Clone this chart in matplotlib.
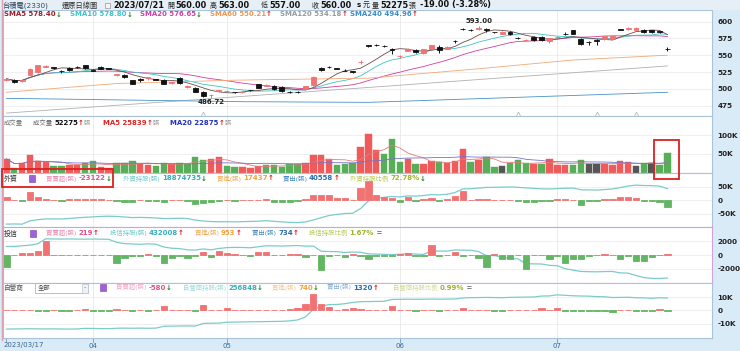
import numpy as np
import pandas as pd
import matplotlib
matplotlib.use("Agg")
import matplotlib.pyplot as plt
from matplotlib.patches import Rectangle
from matplotlib.lines import Line2D
import matplotlib.transforms as mtrans

plt.rcParams['font.family'] = ['DejaVu Sans', 'Noto Sans CJK TC']

# ---------------- data ----------------
month_idx = [0, 11, 28, 50, 70]
month_labels = ['2023/03/17', '04', '05', '06', '07']

open_ = [514,514,512,521,525,533,532,527,531,533,
         535,527.5,533,531,520,521,513,514,516,514.5,
         514,509.5,516,503.5,502,496,490.5,497,496.5,495.5,
         495.5,498,507,505,505,503,496,495,500,506,
         531,533,530.5,527,526,539.5,565,566,564,559,
         548.5,557,558,553,559,563,560,571,589,588,
         589.5,589.5,584.5,582,584,575.5,572.5,577,577,571,
         576.5,582,587,574,570,573,574,574,588.5,589,
         588,588,587,585.5,560]
high_ = [516,515,514,531,536,535,533,528,532,534,
         536,529,534,531.5,522,522,514,516,518,515,
         515,511,517,506,503,497,493,499,499,496,
         497.5,499,508,507,506,504,497.5,497,505,519,
         533,534,531,529,527,543,566,567,565.5,561,
         551,561,559,560,566,566,564,573,591,589,
         593,591,585,586,586,577,574,578,579,576,
         579,584,588,575,571,574,579,579,589,592,
         592,589,588,586,563]
low_ = [512,509,511,520,524,532,529,524,527,531,
        530,526,529,529,519,516,507,511,513,513,
        507,508,508,502,495,488,486.72,496,495,494,
        494,497,501,504,499,496,494,493.5,499,505,
        527,531,529,526,524,537,563,564,563,552,
        546,556,554,552,558,553,559,569,588,586,
        588,585,583,581,580,574,571,571,572,569,
        575,580,581,566,565,566,573,573,587,588,
        587,583,583,583,557]
close_ = [515,510,513,530,535,534,530.5,527,528,532,
          531,527,530,530,521.5,517,508,514,517,514,
          508,510,509,504,496,489,491,498.5,497,495,
          496,498,502,506.5,500,497,496,495,504,518,
          528,532,530,527,525,540,564,565,564,557.5,
          549,560,555,559,565,558,563,571,589,588,
          590,588,584,585,582,575,573,573,573,575,
          577,582,582,567,570,571,578,578,588,591,
          591,584,584,585,560]

sma60_idx = [0, 14, 29, 46, 60, 72, 84]
sma60_val = [495, 508, 513, 516, 530, 543, 550.21]
sma120_idx = [0, 47, 84]
sma120_val = [464, 503, 534.18]
sma240_idx = [0, 30, 46, 84]
sma240_val = [486, 481, 480, 494.96]

volume = [37000,12000,25000,47000,32000,28000,18000,18000,21000,21000,
          27000,30000,16000,12000,27000,27000,30000,23000,21000,18000,
          27000,23000,27000,23000,42000,34000,36000,41000,18000,14000,
          16000,12000,18000,21000,21000,16000,23000,23000,25000,46000,
          46000,36000,21000,23000,27000,68000,103000,60000,50000,89000,
          28000,37000,23000,24000,32000,28000,25000,32000,64000,28000,
          33000,43000,16000,19000,27000,33000,25000,23000,23000,36000,
          21000,21000,21000,34000,23000,23000,23000,21000,30000,29000,
          18000,25000,27000,20000,52275]
vol_dir = list("rgrrrrggrr" "ggrrgggrrg" "grggggrrgg" "rrrgggggrr"
               "rrgggrrrgg" "grgrrgrrrg" "rggkgggrgr" "rrggkkrrrr" "kgkgg")

foreign = [11000,2000,-2000,31600,11000,6000,1000,-1000,5000,6000,
           5000,4000,4000,2000,-2000,-5000,-6000,2000,-2000,-3000,
           -6000,1000,2000,-3000,-14000,-9000,-5000,-2000,1000,-2000,
           2000,2000,2000,5000,-6000,-5000,-5000,-2000,6000,19000,
           21000,21000,10000,9000,2000,44000,72000,21000,13000,8000,
           -5000,11000,-3000,6000,9000,-3000,6000,16000,34000,2000,
           6000,6000,1000,2000,2000,-4000,-5000,-5000,-4000,-2000,
           4000,4000,1000,-16000,-1000,-2000,5000,5000,14000,14000,
           9000,-4000,-1000,-5000,-23122]
trust = [-1750,50,250,250,600,2000,-50,-50,50,-50,
         -50,50,-50,-50,-1250,-500,-150,-150,200,-150,
         -1150,-500,-150,-500,-100,450,-350,550,350,100,
         -50,-100,400,400,-50,-50,100,100,-250,50,
         -2150,-100,-50,-350,200,-100,-650,-100,-100,-100,
         100,250,-150,-150,1500,-100,-50,500,-100,-50,
         -500,-1750,100,-650,-650,-50,-2000,-50,-50,-550,
         -150,-1250,-550,-550,-100,-50,100,50,-600,-100,
         -950,-850,-350,-50,219]
dealer = [200,200,200,200,-200,-200,200,-200,-200,200,
          1000,-200,-200,-200,750,200,-200,200,-200,200,
          3000,200,200,200,-300,4250,200,200,1500,200,
          200,200,200,200,200,200,750,1500,4750,12250,
          5000,2500,200,1250,2000,1250,200,200,200,3000,
          200,200,-200,200,200,-200,200,200,1500,500,
          200,200,-200,-200,500,200,200,200,1500,200,
          1750,-750,-750,-400,-200,-750,-200,-1250,200,200,
          -750,-200,-750,1000,-580]

event_idx = [25, 65, 75, 80]

# ---------------- figure ----------------
W, H = 740, 351
fig = plt.figure(figsize=(W / 100, H / 100), dpi=100)
fig.patch.set_facecolor('#d9ebf7')

def px_axes(x0, y0, x1, y1):
    return fig.add_axes([x0 / W, 1 - y1 / H, (x1 - x0) / W, (y1 - y0) / H])

XL = (-0.43, 89.66)
RED = '#f07272'
GRN = '#62b562'
UPC = '#d81818'
DNC = '#1a8a1a'
HOLD = '#7ccbcb'

o = np.array(open_); h = np.array(high_); l = np.array(low_); c = np.array(close_)
n = len(c)
x = np.arange(n)

def style(ax, ylim, ticks, labels, spine='#a9c3da'):
    ax.set_xlim(*XL)
    ax.set_ylim(*ylim)
    ax.set_facecolor('white')
    ax.yaxis.tick_right()
    ax.set_yticks(ticks)
    ax.set_yticklabels(labels)
    ax.tick_params(axis='y', which='both', left=False, labelleft=False, right=False,
                   labelright=True, length=0, pad=4, labelsize=5.2, colors='#222')
    for lab in ax.get_yticklabels():
        lab.set_fontweight('bold')
    ax.set_xticks([])
    for s in ax.spines.values():
        s.set_color(spine)
        s.set_linewidth(0.8)
    for yv in ticks:
        ax.axhline(yv, color='#ececec', lw=0.6, zorder=0)
    for m in month_idx[1:]:
        ax.axvline(m, color='#e8e8e8', lw=0.6, zorder=0)

# header band
fig.patches.append(Rectangle((0, 1 - 10 / H), 1, 10 / H, transform=fig.transFigure,
                             facecolor='#e6eef6', edgecolor='none', zorder=0))

# ---- price panel ----
ax_p = px_axes(3, 10, 712, 116)
style(ax_p, (459.7, 617.4), [475, 500, 525, 550, 575, 600],
      ['475', '500', '525', '550', '575', '600'])
cs = pd.Series(c)
ax_p.plot(x, cs.rolling(20, min_periods=1).mean(), color='#d23ca2', lw=0.6, zorder=1)
ax_p.plot(x, cs.rolling(10, min_periods=1).mean(), color='#3ec4c4', lw=0.6, zorder=1)
ax_p.plot(x, cs.rolling(5, min_periods=1).mean(), color='#6d4a4a', lw=0.6, zorder=1)
ax_p.plot(sma60_idx, sma60_val, color='#f2a878', lw=0.6, zorder=1)
ax_p.plot(sma120_idx, sma120_val, color='#b0b0b0', lw=0.6, zorder=1)
ax_p.plot(sma240_idx, sma240_val, color='#4a92c6', lw=0.6, zorder=1)
ccol = np.where(c > o, RED, '#111111')
ax_p.vlines(x, l, h, colors=ccol, lw=0.7, zorder=2)
ax_p.bar(x, np.maximum(np.abs(c - o), 0.01), bottom=np.minimum(o, c), width=0.62,
         color=ccol, edgecolor=ccol, linewidth=0.6, zorder=3)
imax = int(np.argmax(h)); imin = int(np.argmin(l))
ax_p.annotate(f'{h[imax]:.2f}', (imax, h[imax]), xytext=(0, 1.5), textcoords='offset points',
              ha='center', va='bottom', fontsize=5, fontweight='bold', color='#222')
ax_p.annotate(f'{l[imin]:.2f}', (imin, l[imin]), xytext=(0, -3.2), textcoords='offset points',
              ha='center', va='center', fontsize=5, fontweight='bold', color='#222')
ax_p.plot(event_idx, [0.015] * len(event_idx), ls='none', marker='^', ms=3.5, mfc='white',
          mec='#b8b8b8', mew=0.6, transform=mtrans.blended_transform_factory(ax_p.transData, ax_p.transAxes),
          clip_on=False, zorder=5)

# ---- volume panel ----
ax_v = px_axes(3, 116, 712, 172.6)
style(ax_v, (0, 152000), [50000, 100000], ['50K', '100K'])
vcol = [{'r': '#f05a5a', 'g': '#58ad58', 'k': '#555555'}[d] for d in vol_dir]
ax_v.bar(x, volume, width=0.82, color=vcol, edgecolor=vcol, linewidth=0.3, zorder=2)
vs = pd.Series(volume, dtype=float)
ax_v.plot(x, vs.rolling(5, min_periods=1).mean(), color='#e87a7a', lw=0.6, zorder=3)
ax_v.plot(x, vs.rolling(20, min_periods=1).mean(), color='#7474c8', lw=0.6, zorder=3)

def inst_panel(ax, vals, ylim, ticks, labels, frac_lo, frac_hi, spine='#a9c3da'):
    v = np.array(vals, dtype=float)
    hold = np.cumsum(v)
    rng = hold.max() - hold.min()
    lo = hold.min() - frac_lo * rng
    hi = hold.max() + frac_hi * rng
    style(ax, ylim, ticks, labels, spine)
    col = np.where(v > 0, RED, GRN)
    ax.bar(x, v, width=0.8, color=col, edgecolor=col, linewidth=0.6, zorder=2)
    # holdings line on its own scale, drawn in axes-fraction space of the same axes
    frac = (hold - lo) / (hi - lo)
    ax.plot(x, frac, color=HOLD, lw=0.9, zorder=1.5,
            transform=mtrans.blended_transform_factory(ax.transData, ax.transAxes))

ax_f = px_axes(3, 172.6, 712, 226.5)
inst_panel(ax_f, foreign, (-96600, 102600), [-50000, 0, 50000], ['-50K', '0', '50K'], 0.06, 0.32)
ax_t = px_axes(3, 226.5, 712, 282.5)
inst_panel(ax_t, trust, (-4060, 4210), [-2000, 0, 2000], ['-2000', '0', '2000'], 0.10, 0.31,
           spine='#cfa2d8')
ax_d = px_axes(3, 282.5, 712, 338)
inst_panel(ax_d, dealer, (-20500, 20800), [-10000, 0, 10000], ['-10K', '0', '10K'], 0.26, 0.36)

# ---- date axis ----
bt = mtrans.blended_transform_factory(ax_d.transData, fig.transFigure)
for i, (m, lab) in enumerate(zip(month_idx, month_labels)):
    fig.add_artist(Line2D([m, m], [1 - 338.5 / H, 1 - 341.5 / H], transform=bt, color='#7fa2c4', lw=0.7))
    if i == 0:
        fig.text(m - 0.35, 1 - 345.5 / H, lab, transform=bt, ha='left', va='center', fontsize=5, color='#3e6690')
    else:
        fig.text(m, 1 - 345.5 / H, lab, transform=bt, ha='center', va='center', fontsize=5, color='#3e6690')

# left border
fig.add_artist(Line2D([1.5 / W, 1.5 / W], [1 - 340 / H, 1], transform=fig.transFigure, color='#dca0ae', lw=1.0))

# ---------------- texts ----------------
renderer = fig.canvas.get_renderer()

def rich(xp, yp, pieces):
    xx = xp
    for p in pieces:
        s, col = p[0], p[1]
        kw = p[2] if len(p) > 2 else {}
        t = fig.text(xx / W, 1 - yp / H, s, color=col, fontsize=kw.get('fs', 5),
                     fontweight=kw.get('w', 'bold'), va='center', ha='left', zorder=6)
        bb = t.get_window_extent(renderer)
        xx += bb.width + kw.get('gap', 0)

def put(xp, yp, s, col, fs=5, w='bold'):
    fig.text(xp / W, 1 - yp / H, s, color=col, fontsize=fs, fontweight=w, va='center', ha='left', zorder=6)

N = {'w': 'normal', 'fs': 4.6}

# header row
HN = 5.9
HC = 5.0
put(2, 5, '台積電(2330)', '#34495e', 5.2, 'normal')
put(62, 5, '還原日線圖', '#333333', 5.2, 'normal')
fig.patches.append(Rectangle((105 / W, 1 - 8 / H), 5 / W, 5 / H, transform=fig.transFigure,
                             facecolor='#f4f4f4', edgecolor='#999', lw=0.5, zorder=6))
put(113, 5, '2023/07/21', '#111', HN)
put(167, 5, '開', '#222', HC, 'normal'); put(175, 5, '560.00', '#111', HN)
put(210, 5, '高', '#222', HC, 'normal'); put(218, 5, '563.00', '#111', HN)
put(261, 5, '低', '#222', HC, 'normal'); put(269, 5, '557.00', '#111', HN)
put(312, 5, '收', '#222', HC, 'normal'); put(320, 5, '560.00', '#111', HN)
put(357, 5, 's', '#111', 5.0); put(362.5, 5, '元', '#222', HC, 'normal')
put(372, 5, '量', '#222', HC, 'normal'); put(380, 5, '52275', '#111', HN)
put(409, 5, '張', '#222', HC, 'normal'); put(420, 5, '-19.00 (-3.28%)', '#111', HN)

# SMA legend
up, dn = '↑', '↓'
rich(4, 14.5, [('SMA5 578.40', '#a31c2a'), (dn, DNC)])
rich(70, 14.5, [('SMA10 578.80', '#3cc4c8'), (dn, DNC)])
rich(140, 14.5, [('SMA20 576.65', '#d43ca4'), (dn, DNC)])
rich(210, 14.5, [('SMA60 550.21', '#f0964e'), (up, UPC)])
rich(280, 14.5, [('SMA120 534.18', '#9a9a9a'), (up, UPC)])
rich(350, 14.5, [('SMA240 494.96', '#3a8ccc'), (up, UPC)])

# volume legend
rich(4, 123, [('成交量', '#777', N)])
rich(33, 123, [('成交量 ', '#666', N), ('52275', '#111'), (up, UPC), ('張', '#999', N)])
rich(103, 123, [('MA5 25839', '#e02424'), (up, UPC), ('張', '#999', N)])
rich(170, 123, [('MA20 22875', '#2430c0'), (up, UPC), ('張', '#999', N)])

def icon(xp, yp):
    fig.patches.append(Rectangle((xp / W, 1 - (yp + 3.5) / H), 5.5 / W, 7 / H, transform=fig.transFigure,
                                 facecolor='#a060d8', edgecolor='#7a3cb0', lw=0.4, zorder=6))

# foreign legend
rich(4, 178.5, [('外資', '#333', {'w': 'normal', 'fs': 5})])
icon(29, 178.5)
rich(46, 178.5, [('買賣超(張) ', '#e68ab2', N), ('-23122', '#e0508a'), (dn, DNC)])
rich(123, 178.5, [('外資持股(張) ', '#6ccaca', N), ('18874735', '#38aeb8'), (dn, DNC)])
rich(217, 178.5, [('買進(張) ', '#f0aa50', N), ('17437', '#f0a23c'), (up, UPC)])
rich(283, 178.5, [('賣出(張) ', '#4a8ac2', N), ('40558', '#2a6cae'), (up, UPC)])
rich(350, 178.5, [('外資持股比例 ', '#b8c850', N), ('72.78%', '#9cb42c'), (dn, DNC)])

# trust legend
rich(4, 233, [('投信', '#333', {'w': 'normal', 'fs': 5})])
icon(30, 233)
rich(46, 233, [('買賣超(張) ', '#e68ab2', N), ('219', '#e0508a'), (up, UPC)])
rich(110, 233, [('投信持股(張) ', '#6ccaca', N), ('432008', '#38aeb8'), (up, UPC)])
rich(195, 233, [('買進(張) ', '#f0aa50', N), ('953', '#f0a23c'), (up, UPC)])
rich(252, 233, [('賣出(張) ', '#4a8ac2', N), ('734', '#2a6cae'), (up, UPC)])
rich(309, 233, [('投信持股比例 ', '#b8c850', N), ('1.67%', '#9cb42c'), (' =', '#777')])

# dealer legend
rich(4, 287.5, [('自營商', '#555', {'w': 'normal', 'fs': 4.8})])
fig.patches.append(Rectangle((35 / W, 1 - 293 / H), 53 / W, 10 / H, transform=fig.transFigure,
                             facecolor='white', edgecolor='#9aa8b8', lw=0.5, zorder=6))
fig.patches.append(Rectangle((82 / W, 1 - 292.5 / H), 5.5 / W, 9 / H, transform=fig.transFigure,
                             facecolor='#eef2f6', edgecolor='#b0bccb', lw=0.4, zorder=6))
rich(38, 287.8, [('全部', '#444', {'w': 'normal', 'fs': 4.6})])
rich(83.2, 287.8, [('-', '#555', {'w': 'normal', 'fs': 4.5})])
icon(100, 287.5)
rich(116, 287.5, [('買賣超(張) ', '#f0a8c4', N), ('-580', '#e0508a'), (dn, DNC)])
rich(183, 287.5, [('自營商持股(張) ', '#9adada', N), ('256848', '#38aeb8'), (dn, DNC)])
rich(272, 287.5, [('買進(張) ', '#f4c890', N), ('740', '#f0a23c'), (dn, DNC)])
rich(327, 287.5, [('賣出(張) ', '#8ab0d4', N), ('1320', '#2a6cae'), (up, UPC)])
rich(393, 287.5, [('自營商持股比例 ', '#cfd890', N), ('0.99%', '#9cb42c'), (' =', '#777')])

# highlight boxes
fig.patches.append(Rectangle((654 / W, 1 - 179 / H), 25 / W, 39 / H, transform=fig.transFigure,
                             facecolor='none', edgecolor='#e01e1e', lw=1.3, zorder=7))
fig.patches.append(Rectangle((2 / W, 1 - 186.5 / H), 111 / W, 18 / H, transform=fig.transFigure,
                             facecolor='none', edgecolor='#e01e1e', lw=1.3, zorder=7))

fig.savefig('out.png', dpi=100, facecolor=fig.get_facecolor())
